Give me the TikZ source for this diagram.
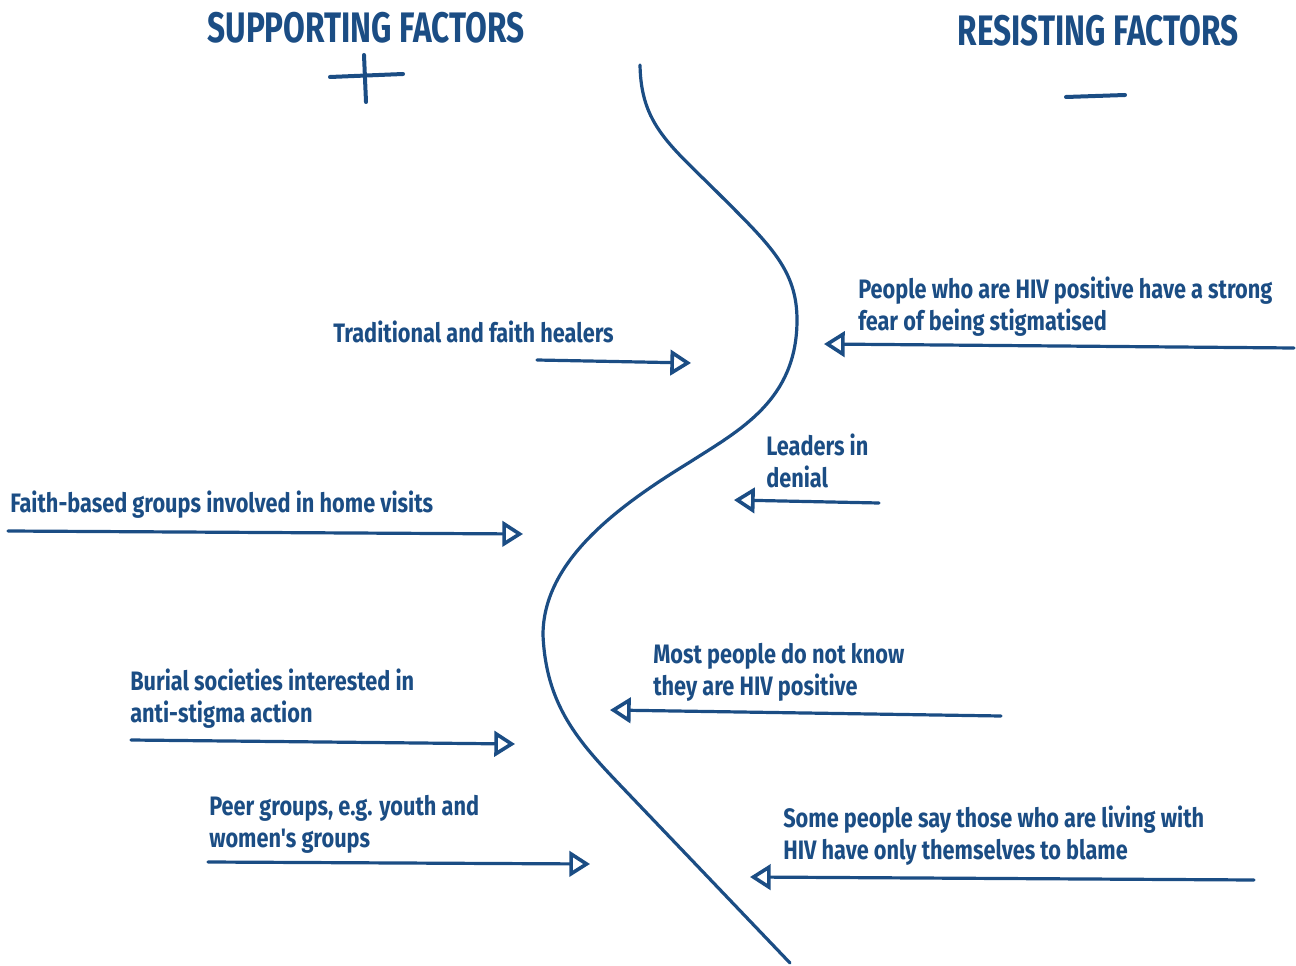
\documentclass[tikz,border=0pt]{standalone}
\usepackage{fontspec}
\setmainfont{Fira Sans}
\newfontfamily\bodyfont{Fira Sans}[FakeStretch=0.815]
\newfontfamily\titlefont{Fira Sans}[FakeStretch=0.74]
\usetikzlibrary{arrows.meta}
\definecolor{ink}{HTML}{1B4D84}
\tikzset{
  lbl/.style={anchor=north west, inner sep=0pt, align=left, text=ink,
    font=\bodyfont\bfseries\fontsize{20pt}{24pt}\selectfont},
  ttl/.style={inner sep=0pt, text=ink, font=\titlefont\bfseries\fontsize{32pt}{36pt}\selectfont},
  force/.style={draw=ink, line width=2.4pt, line cap=round,
    -{Triangle[open, length=15.5pt, width=19pt, line width=2.7pt]}},
  sign/.style={draw=ink, line width=3pt, line cap=round},
}
\begin{document}
\begin{tikzpicture}[x=0.75pt, y=-0.75pt]
\useasboundingbox (0,0) rectangle (1296,966);
% titles
\node[ttl] (tsup) at (366,28) {SUPPORTING FACTORS};
\node[ttl] (tres) at (1098,31) {RESISTING FACTORS};
\draw[sign] (330,77) -- (403,74);
\draw[sign] (364,55) -- (366,102);
\draw[sign] (1066,97) -- (1125,95);
% dividing curve
\draw[ink, line width=2.4pt, line cap=round]
  (640,65) .. controls (641,125) and (670,145) .. (720,195)
  .. controls (770,245) and (797,270) .. (797,320)
  .. controls (797,400) and (740,430) .. (690,462)
  .. controls (620,505) and (543,560) .. (543,635)
  .. controls (546,705) and (578,741) .. (620,785)
  -- (790,963);
% supporting labels
\node[lbl] (l1) at (333,321) {Traditional and faith healers};
\node[lbl] (l2) at (10,491) {Faith-based groups involved in home visits};
\node[lbl] (l3) at (130,669) {Burial societies interested in\\anti-stigma action};
\node[lbl] (l4) at (209,795) {Peer groups, e.g. youth and\\women's groups};
% resisting labels
\node[lbl] (r1) at (858,277) {People who are HIV positive have a strong\\fear of being stigmatised};
\node[lbl] (r2) at (766,434) {Leaders in\\denial};
\node[lbl] (r3) at (653,643) {Most people do not know\\they are HIV positive};
\node[lbl] (r4) at (783,806) {Some people say those who are living with\\HIV have only themselves to blame};
% arrow ends
\coordinate (a1s) at (537,360); \coordinate (a1e) at (691,363);
\coordinate (a2s) at (8,531);   \coordinate (a2e) at (523,534);
\coordinate (a3s) at (131,740); \coordinate (a3e) at (515,744);
\coordinate (a4s) at (208,862); \coordinate (a4e) at (590,864);
\coordinate (b1s) at (1294,348); \coordinate (b1e) at (824,344);
\coordinate (b2s) at (879,503); \coordinate (b2e) at (734,500);
\coordinate (b3s) at (1001,716); \coordinate (b3e) at (610,710);
\coordinate (b4s) at (1254,880); \coordinate (b4e) at (750,877);
\draw[force] (a1s) -- (a1e);
\draw[force] (a2s) -- (a2e);
\draw[force] (a3s) -- (a3e);
\draw[force] (a4s) -- (a4e);
\draw[force] (b1s) -- (b1e);
\draw[force] (b2s) -- (b2e);
\draw[force] (b3s) -- (b3e);
\draw[force] (b4s) -- (b4e);
\end{tikzpicture}
\end{document}
